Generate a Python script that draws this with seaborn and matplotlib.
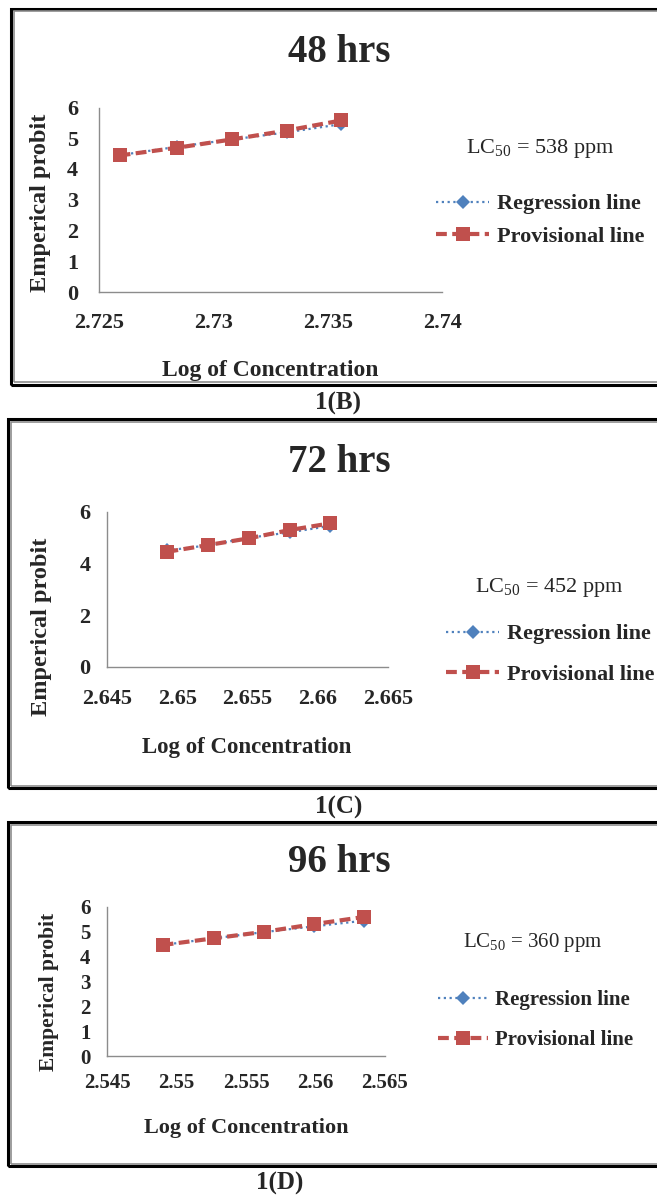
import matplotlib
matplotlib.use('Agg')
import pandas as pd
import matplotlib.pyplot as plt
import seaborn as sns
from matplotlib.patches import Rectangle

# Probit data (log10 of concentration vs emperical probit)
hours = ['48 hrs', '72 hrs', '96 hrs']
panel_tags = ['1(B)', '1(C)', '1(D)']
lc50_ppm = [538, 452, 360]

log_conc_48 = [2.7259, 2.7284, 2.7308, 2.7332, 2.7356]
regression_48 = [4.45, 4.72, 4.96, 5.19, 5.46]
provisional_48 = [4.44, 4.69, 4.96, 5.25, 5.58]

log_conc_72 = [2.6493, 2.6522, 2.6551, 2.6580, 2.6609]
regression_72 = [4.50, 4.70, 4.99, 5.20, 5.45]
provisional_72 = [4.45, 4.71, 4.97, 5.29, 5.55]

log_conc_96 = [2.5490, 2.5527, 2.5563, 2.5599, 2.5635]
regression_96 = [4.47, 4.74, 4.99, 5.22, 5.45]
provisional_96 = [4.47, 4.74, 5.00, 5.31, 5.60]

xticks_48 = [2.725, 2.73, 2.735, 2.74]
xticks_72 = [2.645, 2.65, 2.655, 2.66, 2.665]
xticks_96 = [2.545, 2.55, 2.555, 2.56, 2.565]
yticks_48 = [0, 1, 2, 3, 4, 5, 6]
yticks_72 = [0, 2, 4, 6]
yticks_96 = [0, 1, 2, 3, 4, 5, 6]

sns.set_style('white')
plt.rcParams['font.family'] = ['Liberation Serif', 'DejaVu Serif']
plt.rcParams['mathtext.fontset'] = 'custom'
plt.rcParams['mathtext.rm'] = 'Liberation Serif'

W, H = 657, 1196
fig = plt.figure(figsize=(W / 100, H / 100), dpi=100)


def fx(px):
    return px / W


def fy(py):
    return 1 - py / H


# layout in pixels: axes box, frame, text centres, legend anchor
layout = [
    dict(ax=(99, 442, 107.5, 292), frame=(11, 8.5, 385), title=(339, 52), xlab=(270, 370),
         ylab=(40, 203), lc=(540, 148), tag=(338, 403), leg=(436, 220.5), spacing=0.55,
         fs=16, xfs=17, yfs=17.5, xpad=15, ypad=15),
    dict(ax=(107, 388, 511.7, 666.7), frame=(8, 419, 788), title=(339, 462), xlab=(247, 748),
         ylab=(42, 627), lc=(549, 587), tag=(339, 807), leg=(446, 654.5), spacing=0.9,
         fs=16, xfs=16.5, yfs=17.5, xpad=16, ypad=12),
    dict(ax=(107, 385, 907, 1056), frame=(8, 822, 1166), title=(339, 862), xlab=(246, 1128),
         ylab=(49, 992), lc=(533, 942), tag=(280, 1183), leg=(438, 1020), spacing=0.95,
         fs=15, xfs=16, yfs=15.5, xpad=12, ypad=12),
]

xs = [log_conc_48, log_conc_72, log_conc_96]
regs = [regression_48, regression_72, regression_96]
provs = [provisional_48, provisional_72, provisional_96]
xticks = [xticks_48, xticks_72, xticks_96]
yticks = [yticks_48, yticks_72, yticks_96]

for i in range(3):
    L = layout[i]
    x0, x1, ytop, ybot = L['ax']

    # outer frame of each chart (black with thin grey inside)
    fl, ft, fb = L['frame']
    fig.add_artist(Rectangle((fx(fl), fy(fb)), fx(700 - fl), fy(ft) - fy(fb),
                             transform=fig.transFigure, fill=False, ec='black', lw=2.2))
    fig.add_artist(Rectangle((fx(fl + 2.5), fy(fb - 2.5)), fx(700 - fl), fy(ft + 2.5) - fy(fb - 2.5),
                             transform=fig.transFigure, fill=False, ec='#8c8c8c', lw=1.2))

    ax = fig.add_axes([fx(x0), fy(ybot), fx(x1) - fx(x0), fy(ytop) - fy(ybot)])
    df = pd.DataFrame({'log_conc': xs[i], 'regression': regs[i], 'provisional': provs[i]})

    sns.lineplot(data=df, x='log_conc', y='regression', ax=ax, color='#4F81BD', marker='D',
                 markersize=7.5, markeredgewidth=0, linewidth=1.6, dashes=False,
                 linestyle=(0, (1, 1.6)), label='Regression line')
    sns.lineplot(data=df, x='log_conc', y='provisional', ax=ax, color='#C0504D', marker='s',
                 markersize=9.5, markeredgewidth=0, linewidth=3, dashes=False,
                 linestyle=(0, (2.6, 1.3)), label='Provisional line')

    ax.set_xlim(xticks[i][0], xticks[i][-1])
    ax.set_ylim(0, 6)
    ax.set_xticks(xticks[i])
    ax.set_xticklabels(['%g' % t for t in xticks[i]])
    ax.set_yticks(yticks[i])
    ax.tick_params(axis='both', length=0, labelsize=L['fs'])
    ax.tick_params(axis='x', pad=L['xpad'])
    ax.tick_params(axis='y', pad=L['ypad'])
    for lab in ax.get_xticklabels() + ax.get_yticklabels():
        lab.set_fontweight('bold')
    sns.despine(ax=ax)
    for side in ['left', 'bottom']:
        ax.spines[side].set_color('#8c8c8c')
        ax.spines[side].set_linewidth(1)

    ax.set_xlabel('Log of Concentration', fontsize=L['xfs'], fontweight='bold', va='center')
    ax.xaxis.set_label_coords((L['xlab'][0] - x0) / (x1 - x0), (ybot - L['xlab'][1]) / (ybot - ytop))
    ax.set_ylabel('Emperical probit', fontsize=L['yfs'], fontweight='bold', va='center')
    ax.yaxis.set_label_coords((L['ylab'][0] - x0) / (x1 - x0), (ybot - L['ylab'][1]) / (ybot - ytop))

    handles, labels = ax.get_legend_handles_labels()
    ax.legend(handles, labels, loc='center left', bbox_to_anchor=(fx(L['leg'][0]), fy(L['leg'][1])),
              bbox_transform=fig.transFigure, frameon=False, borderpad=0, borderaxespad=0,
              handlelength=2.4, handletextpad=0.35, labelspacing=L['spacing'],
              prop={'size': L['fs'], 'weight': 'bold'})

    fig.text(fx(L['title'][0]), fy(L['title'][1]), hours[i], fontsize=28, fontweight='bold',
             ha='center', va='center')
    fig.text(fx(L['lc'][0]), fy(L['lc'][1]), r'LC$_{\mathregular{50}}$ = %d ppm' % lc50_ppm[i],
             fontsize=L['fs'], ha='center', va='center')
    fig.text(fx(L['tag'][0]), fy(L['tag'][1]), panel_tags[i], fontsize=18, fontweight='bold',
             ha='center', va='center')

plt.savefig('out.png', dpi=100)
plt.close()
